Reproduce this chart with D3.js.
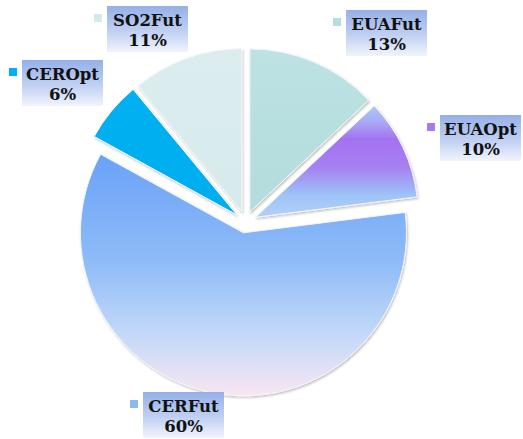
<!DOCTYPE html>
<html>
<head>
<meta charset="utf-8">
<script src="https://cdn.jsdelivr.net/npm/d3@7"></script>
<style>
    body { margin: 0; background: #fff; }
    text { font-family: "DejaVu Serif", Georgia, serif; font-weight: bold; }
</style>
</head>
<body>
<div id="chart"></div>
<script>
// data
const categories = ["EUAFut", "EUAOpt", "CERFut", "CEROpt", "SO2Fut"];
const shares = [13, 10, 60, 6, 11];
const pctLabels = ["13%", "10%", "60%", "6%", "11%"];

// where the label boxes sit (top-left corner), placed by hand like the original
const labelSpots = [[346, 10], [440, 115], [143, 392], [22, 60], [107, 6]];

const width = 523, height = 439;
const cx = 245.5, cy = 222, radius = 163, explode = 11;

const svg = d3.select("#chart").append("svg")
    .attr("width", width)
    .attr("height", height);

const defs = svg.append("defs");

// slice fills
function vGrad(id, stops) {
    const g = defs.append("linearGradient")
        .attr("id", id)
        .attr("x1", 0).attr("y1", 0).attr("x2", 0).attr("y2", 1);
    stops.forEach(s => g.append("stop").attr("offset", s[0]).attr("stop-color", s[1]));
}
vGrad("gEUAFut", [[0, "#bde2e3"], [1, "#b3dcdd"]]);
vGrad("gEUAOpt", [[0, "#a8cbf8"], [0.15, "#aaa8f5"], [0.3, "#a372f2"], [0.55, "#a680f2"], [0.8, "#9dc3f8"], [1, "#b4d1f8"]]);
vGrad("gCERFut", [[0, "#6aa2f7"], [0.45, "#8fbcf8"], [0.75, "#c4d9f8"], [1, "#f9e6f3"]]);
vGrad("gCEROpt", [[0, "#00b0f0"], [1, "#00aeee"]]);
vGrad("gSO2Fut", [[0, "#dcedef"], [1, "#d6eaec"]]);
vGrad("gBox", [[0, "#95b0e8"], [0.55, "#c0d0f2"], [1, "#f1f4fc"]]);

const markColors = ["#b5dede", "#a67cf0", "#8cb8f2", "#00b0f0", "#d6eaec"];

const shadow = defs.append("filter").attr("id", "shadow")
    .attr("x", "-10%").attr("y", "-10%").attr("width", "120%").attr("height", "120%");
shadow.append("feDropShadow")
    .attr("dx", 1).attr("dy", 1.5).attr("stdDeviation", 1.2)
    .attr("flood-color", "#000").attr("flood-opacity", 0.25);

const pie = d3.pie().sort(null).value(d => d);
const arcs = pie(shares);

const arc = d3.arc().innerRadius(0).outerRadius(radius);

const g = svg.append("g").attr("transform", `translate(${cx},${cy})`);

g.selectAll(".slice")
    .data(arcs)
    .enter().append("path")
    .attr("class", "slice")
    .attr("transform", d => {
        const mid = (d.startAngle + d.endAngle) / 2;
        return `translate(${explode * Math.sin(mid)},${-explode * Math.cos(mid)})`;
    })
    .attr("d", arc)
    .attr("fill", (d, i) => `url(#g${categories[i]})`)
    .attr("stroke", "#f4f6f8")
    .attr("stroke-width", 1)
    .attr("filter", "url(#shadow)");

// labels: gradient box with the name and percentage, small coloured square in front
const boxW = 81, boxH = 46;
const label = svg.selectAll(".label")
    .data(categories)
    .enter().append("g")
    .attr("class", "label")
    .attr("transform", (d, i) => `translate(${labelSpots[i][0]},${labelSpots[i][1]})`);

label.append("rect")
    .attr("width", boxW)
    .attr("height", boxH)
    .attr("fill", "url(#gBox)");

label.append("rect")
    .attr("x", -13)
    .attr("y", 8)
    .attr("width", 8)
    .attr("height", 8)
    .attr("fill", (d, i) => markColors[i]);

label.append("text")
    .attr("x", boxW / 2)
    .attr("y", 20)
    .attr("text-anchor", "middle")
    .attr("font-size", 16.5)
    .attr("fill", "#111")
    .text(d => d);

label.append("text")
    .attr("x", boxW / 2)
    .attr("y", 40)
    .attr("text-anchor", "middle")
    .attr("font-size", 16.5)
    .attr("fill", "#111")
    .text((d, i) => pctLabels[i]);
</script>
</body>
</html>
